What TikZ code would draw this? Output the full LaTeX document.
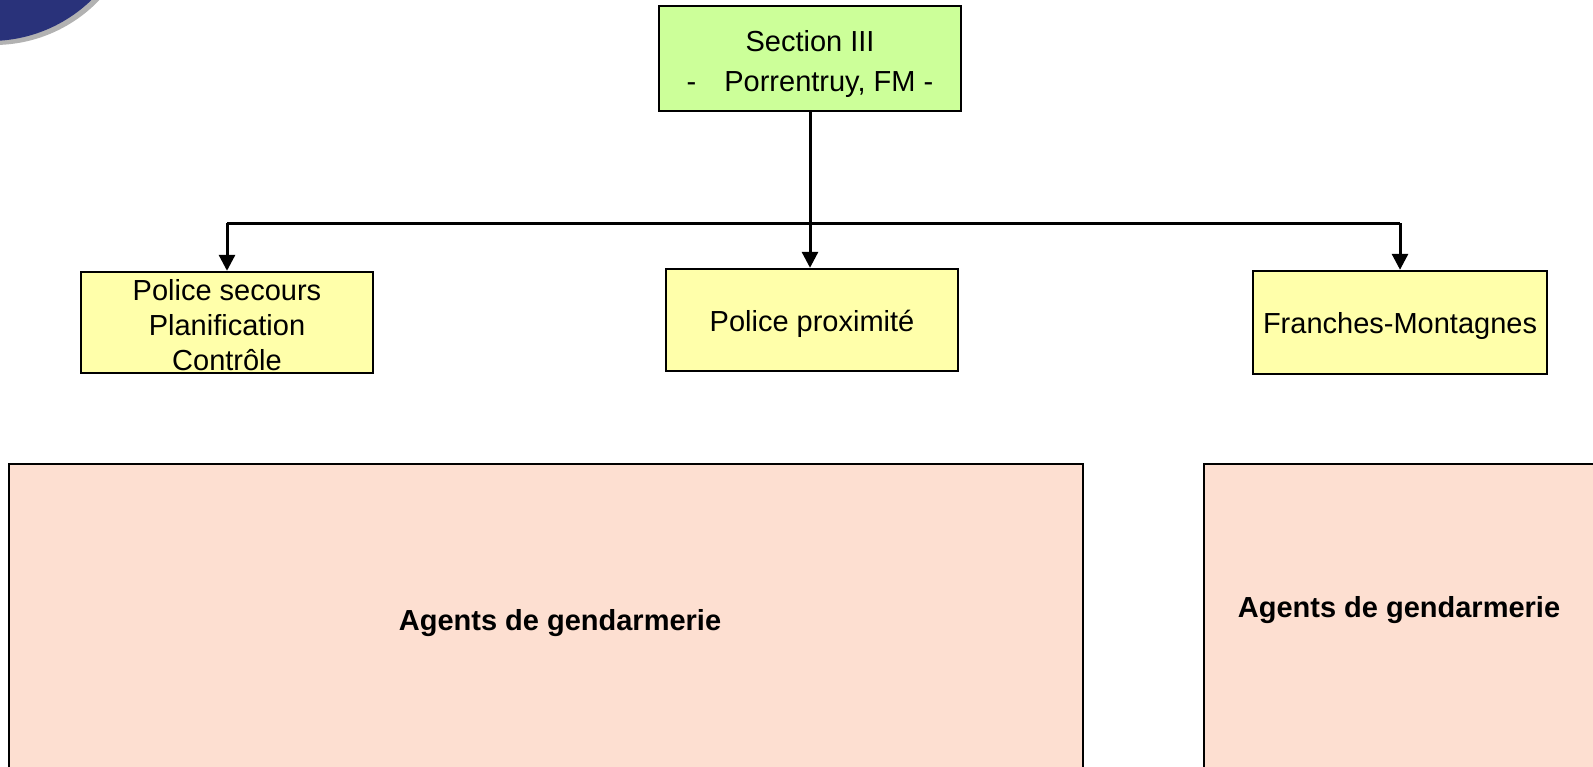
\documentclass[tikz,border=0pt]{standalone}
\usepackage{fontspec}
\setmainfont{Liberation Sans}
\usetikzlibrary{arrows.meta}
\definecolor{navy}{RGB}{41,50,122}
\definecolor{greenbox}{RGB}{204,255,153}
\definecolor{yellowbox}{RGB}{255,255,170}
\definecolor{peach}{RGB}{253,223,209}
\begin{document}
\begin{tikzpicture}[x=0.5pt,y=-0.5pt,
  box/.style={draw=black,line width=1.2pt,inner sep=0pt,align=center,
    font=\fontsize{14.5}{17.5}\selectfont},
  topbox/.style={box,fill=greenbox},
  unitbox/.style={box,fill=yellowbox},
  boxtext/.style={inner sep=0pt,align=center,font=\fontsize{14.5}{17.5}\selectfont},
  agentbox/.style={draw=black,line width=1.2pt,fill=peach,inner sep=0pt},
  agentlabel/.style={inner sep=0pt,font=\fontsize{14.5}{17.5}\selectfont\bfseries},
  conn/.style={draw=black,line width=1.5pt},
  arr/.style={conn,-{Triangle[width=8pt,length=8pt]}}]
\useasboundingbox (0,0) rectangle (1593,766);
\clip (0,0) rectangle (1593,766);
% decorative corner disc
\fill[black!30] (-6,-101) circle[radius=73pt];
\fill[navy] (-10,-105) circle[radius=73pt];
% boxes
\node[topbox, minimum width=151pt, minimum height=52.5pt] (sec) at (810,58.5) {};
\node[boxtext, font=\fontsize{14.5}{20}\selectfont] (sect) at (810,63.5)
  {Section III\\-\hspace{14pt}Porrentruy, FM -};
\node[unitbox, minimum width=146pt, minimum height=50.5pt] (ps) at (227,322.5) {};
\node[boxtext] (pst) at (227,325.5)
  {Police secours\\Planification\\Contrôle};
\node[unitbox, minimum width=146pt, minimum height=51pt,
  text height=11.5pt, text depth=0pt] (pp) at (812,320)
  {Police proximité};
\node[unitbox, minimum width=147pt, minimum height=51.5pt,
  text height=10.5pt, text depth=0pt] (fm) at (1400,322.5)
  {Franches-Montagnes};
\node[agentbox, minimum width=537pt, minimum height=168pt] (agl) at (546,632) {};
\node[agentbox, minimum width=248pt, minimum height=168pt] (agr) at (1452,632) {};
\node[agentlabel] (tagl) at (560,623) {Agents de gendarmerie};
\node[agentlabel] (tagr) at (1399,610) {Agents de gendarmerie};
% connectors
\coordinate (hl) at (227,223);
\coordinate (hr) at (1400,223);
\draw[conn] (hl) -- (hr);
\draw[arr] (hl) -- (ps.north);
\draw[arr] (hr) -- (fm.north);
\draw[arr] (sec.south) -- (sec.south |- pp.north);
\end{tikzpicture}
\end{document}
